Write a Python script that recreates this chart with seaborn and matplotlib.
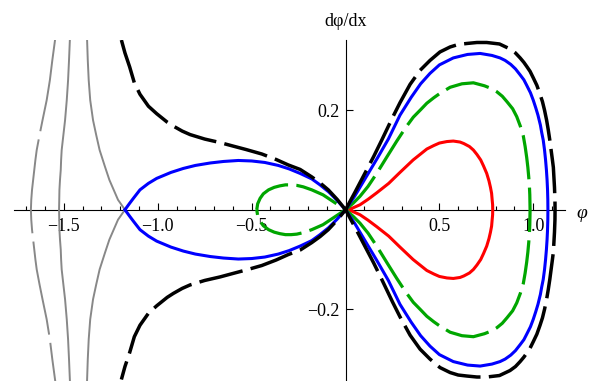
import matplotlib
matplotlib.use("Agg")
import matplotlib.pyplot as plt
import pandas as pd
import seaborn as sns
from matplotlib.ticker import FixedLocator, FixedFormatter

# Upper halves (dphi/dx >= 0) of the phase-plane orbits; each orbit is
# symmetric under dphi/dx -> -dphi/dx, so the lower half is its mirror.
red_phi = [0.0, 0.035, 0.077, 0.12, 0.166, 0.23, 0.29, 0.36, 0.433, 0.47,
           0.50, 0.54, 0.574, 0.61, 0.63, 0.66, 0.681, 0.70, 0.72, 0.735,
           0.752, 0.764, 0.772, 0.778, 0.781, 0.7835, 0.784]
red_dphi = [0.0, 0.003, 0.010, 0.021, 0.034, 0.053, 0.075, 0.100, 0.122,
            0.129, 0.134, 0.137, 0.138, 0.136, 0.133, 0.127, 0.120, 0.111,
            0.100, 0.088, 0.073, 0.058, 0.045, 0.033, 0.020, 0.010, 0.0]

green_r_phi = [0.0, 0.04, 0.077, 0.12, 0.166, 0.22, 0.273, 0.32, 0.361, 0.40,
               0.433, 0.47, 0.50, 0.557, 0.62, 0.681, 0.74, 0.78, 0.806,
               0.835, 0.86, 0.89, 0.912, 0.931, 0.947, 0.9567, 0.965, 0.9712,
               0.976, 0.9797, 0.9815, 0.983]
green_r_dphi = [0.0, 0.013, 0.027, 0.047, 0.073, 0.106, 0.138, 0.165, 0.186,
                0.201, 0.214, 0.225, 0.233, 0.246, 0.253, 0.255, 0.249, 0.243,
                0.237, 0.228, 0.217, 0.203, 0.187, 0.168, 0.148, 0.127, 0.105,
                0.085, 0.065, 0.045, 0.030, 0.0]
green_l_phi = [-0.473, -0.468, -0.455, -0.438, -0.41, -0.38, -0.35, -0.32,
               -0.29, -0.26, -0.225, -0.18, -0.12, -0.06, 0.0]
green_l_dphi = [0.0, 0.012, 0.023, 0.032, 0.040, 0.045, 0.048, 0.050, 0.050,
                0.049, 0.046, 0.040, 0.030, 0.015, 0.0]

blue_r_phi = [0.0, 0.05, 0.113, 0.17, 0.228, 0.29, 0.35, 0.40, 0.45, 0.50,
              0.574, 0.65, 0.717, 0.78, 0.823, 0.85, 0.88, 0.905, 0.93, 0.95,
              0.965, 0.985, 1.0, 1.013, 1.025, 1.038, 1.045, 1.053, 1.06,
              1.0655, 1.07, 1.0735, 1.076, 1.0775, 1.078]
blue_r_dphi = [0.0, 0.028, 0.068, 0.104, 0.142, 0.19, 0.226, 0.253, 0.274,
               0.291, 0.305, 0.312, 0.314, 0.310, 0.305, 0.300, 0.292, 0.283,
               0.271, 0.261, 0.25, 0.235, 0.22, 0.205, 0.19, 0.17, 0.155,
               0.14, 0.12, 0.10, 0.08, 0.06, 0.04, 0.02, 0.0]
blue_l_phi = [-1.175, -1.15, -1.13, -1.095, -1.05, -1.006, -0.93, -0.864,
              -0.80, -0.72, -0.65, -0.571, -0.50, -0.43, -0.358, -0.30,
              -0.242, -0.18, -0.136, -0.09, -0.045, 0.0]
blue_l_dphi = [0.0, 0.013, 0.023, 0.040, 0.053, 0.063, 0.075, 0.083, 0.089,
               0.094, 0.097, 0.099, 0.098, 0.095, 0.089, 0.082, 0.073, 0.062,
               0.050, 0.036, 0.019, 0.0]

black_r_phi = [0.0, 0.05, 0.10, 0.15, 0.193, 0.25, 0.29, 0.344, 0.397, 0.45,
               0.503, 0.557, 0.60, 0.646, 0.70, 0.752, 0.82, 0.876, 0.905,
               0.93, 0.95, 0.965, 0.983, 1.0, 1.019, 1.036, 1.049, 1.06,
               1.071, 1.08, 1.088, 1.095, 1.102, 1.107, 1.110, 1.113, 1.1155,
               1.116]
black_r_dphi = [0.0, 0.035, 0.071, 0.107, 0.140, 0.185, 0.215, 0.252, 0.280,
                0.300, 0.317, 0.327, 0.332, 0.334, 0.336, 0.336, 0.333, 0.323,
                0.315, 0.305, 0.296, 0.288, 0.278, 0.265, 0.25, 0.232, 0.217,
                0.200, 0.18, 0.160, 0.14, 0.120, 0.10, 0.085, 0.065, 0.045,
                0.02, 0.0]
black_l_phi = [-1.194, -1.175, -1.15, -1.125, -1.095, -1.05, -1.006, -0.95,
               -0.917, -0.87, -0.828, -0.75, -0.669, -0.60, -0.53, -0.446,
               -0.37, -0.305, -0.242, -0.18, -0.136, -0.092, -0.045, 0.0]
black_l_dphi = [0.341, 0.315, 0.287, 0.255, 0.232, 0.208, 0.193, 0.176, 0.168,
                0.158, 0.151, 0.142, 0.135, 0.128, 0.121, 0.112, 0.101, 0.090,
                0.081, 0.066, 0.054, 0.040, 0.021, 0.0]

# Unbounded branches left of the saddle, listed from the top down to the axis
gray_a_phi = [-1.546, -1.562, -1.575, -1.592, -1.614, -1.630, -1.645, -1.652,
              -1.658, -1.664, -1.670, -1.674, -1.676]
gray_a_dphi = [0.345, 0.30, 0.26, 0.22, 0.18, 0.15, 0.12, 0.10, 0.08, 0.06,
               0.04, 0.02, 0.0]
gray_b_phi = [-1.468, -1.473, -1.478, -1.485, -1.494, -1.503, -1.512, -1.515,
              -1.517, -1.521, -1.524, -1.525, -1.526]
gray_b_dphi = [0.345, 0.30, 0.26, 0.22, 0.18, 0.15, 0.12, 0.10, 0.08, 0.06,
               0.04, 0.02, 0.0]
gray_c_phi = [-1.377, -1.373, -1.368, -1.360, -1.345, -1.328, -1.31, -1.281,
              -1.258, -1.235, -1.212, -1.175]
gray_c_dphi = [0.345, 0.30, 0.26, 0.22, 0.18, 0.15, 0.12, 0.086, 0.06, 0.04,
               0.02, 0.0]

x_major = [-1.5, -1.0, -0.5, 0.5, 1.0]
x_major_labels = ["\u22121.5", "\u22121.0", "\u22120.5", "0.5", "1.0"]
x_minor = [-1.7, -1.6, -1.4, -1.3, -1.2, -1.1, -0.9, -0.8, -0.7, -0.6, -0.4,
           -0.3, -0.2, -0.1, 0.1, 0.2, 0.3, 0.4, 0.6, 0.7, 0.8, 0.9, 1.1]
y_major = [-0.2, 0.2]
y_major_labels = ["\u22120.2", "0.2"]

sns.set_theme(style="white", rc={"axes.edgecolor": "black",
                                 "text.color": "black",
                                 "xtick.color": "black",
                                 "ytick.color": "black"})
plt.rcParams["font.family"] = ["Liberation Serif", "DejaVu Serif"]
plt.rcParams["lines.scale_dashes"] = False


def orbit(phi, dphi):
    """Join an upper branch with its mirror image into one path."""
    x = list(phi) + list(phi[::-1])
    y = list(dphi) + [-v for v in dphi[::-1]]
    return pd.DataFrame({"phi": x, "dphi": y})


fig = plt.figure(figsize=(5.9, 3.81), dpi=100)
ax = fig.add_axes([14 / 590, 0.0, 551 / 590, 341 / 381])

long_dash = (0, (32, 6))
gray_dash = (0, (68, 6))

curves = [
    (gray_a_phi, gray_a_dphi, "#888888", 1.4, gray_dash),
    (gray_b_phi, gray_b_dphi, "#888888", 1.4, "-"),
    (gray_c_phi, gray_c_dphi, "#888888", 1.4, "-"),
    (red_phi, red_dphi, "#ff0000", 2.2, "-"),
    (green_l_phi, green_l_dphi, "#00a600", 2.3, long_dash),
    (green_r_phi, green_r_dphi, "#00a600", 2.3, long_dash),
    (blue_l_phi, blue_l_dphi, "#0000ff", 2.2, "-"),
    (blue_r_phi, blue_r_dphi, "#0000ff", 2.2, "-"),
    (black_l_phi, black_l_dphi, "#000000", 2.5, long_dash),
    (black_r_phi, black_r_dphi, "#000000", 2.5, long_dash),
]

for phi, dphi, color, lw, ls in curves:
    sns.lineplot(data=orbit(phi, dphi), x="phi", y="dphi", sort=False,
                 estimator=None, color=color, linewidth=lw, linestyle=ls,
                 dash_capstyle="butt", solid_capstyle="round",
                 solid_joinstyle="round", zorder=3, ax=ax)

ax.set_xlim(-1.766, 1.169)
ax.set_ylim(-0.344, 0.341)
ax.set_xlabel("")
ax.set_ylabel("")
ax.set_facecolor("white")

for side in ("top", "right"):
    ax.spines[side].set_visible(False)
ax.spines["left"].set_position(("data", 0))
ax.spines["bottom"].set_position(("data", 0))
for side in ("left", "bottom"):
    ax.spines[side].set_linewidth(0.8)
    ax.spines[side].set_color("black")
    ax.spines[side].set_zorder(1)

ax.xaxis.set_major_locator(FixedLocator(x_major))
ax.xaxis.set_major_formatter(FixedFormatter(x_major_labels))
ax.xaxis.set_minor_locator(FixedLocator(x_minor))
ax.yaxis.set_major_locator(FixedLocator(y_major))
ax.yaxis.set_major_formatter(FixedFormatter(y_major_labels))
ax.yaxis.set_minor_locator(FixedLocator([]))

ax.tick_params(axis="x", which="both", direction="in", bottom=True,
               width=0.8, labelsize=13, pad=6)
ax.tick_params(axis="x", which="major", length=5)
ax.tick_params(axis="x", which="minor", length=3)
ax.tick_params(axis="y", which="major", direction="in", left=True,
               width=0.8, length=5, labelsize=13, pad=4)

fig.text(346 / 590, 1 - 21 / 381, "d\u03c6/dx", ha="center", va="center",
         fontsize=13)
fig.text(582 / 590, 1 - 213 / 381, "\u03c6", ha="center", va="center",
         fontsize=14, style="italic")

fig.savefig("out.png", dpi=100, facecolor="white")
